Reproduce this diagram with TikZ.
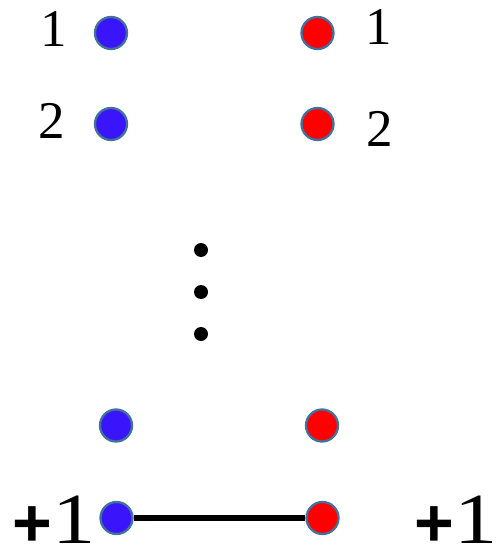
\documentclass[tikz,border=0pt]{standalone}
\usepackage{graphicx}
\usepackage{fontspec}
\setmainfont{Liberation Serif}
\setsansfont{Liberation Sans}
\newcommand{\plusone}{{\sffamily\bfseries\fontsize{68}{70}\selectfont\raisebox{-3pt}{+}}\scalebox{1.2}[1]{\rmfamily\mdseries\fontsize{72}{80}\selectfont 1}}
\begin{document}
\begin{tikzpicture}[x=1pt,y=-1pt,
  vtx/.style={circle,minimum size=32pt,inner sep=0pt,draw=edgeblue,line width=2.3pt},
  bluev/.style={vtx,fill=vblue},
  redv/.style={vtx,fill=red},
  dotv/.style={circle,fill=black,minimum size=14pt,inner sep=0pt},
  numlab/.style={inner sep=0pt,anchor=base,font=\fontsize{53}{60}\selectfont},
  pluslab/.style={inner sep=0pt,anchor=base west}]
\definecolor{vblue}{RGB}{58,20,250}
\definecolor{edgeblue}{RGB}{65,113,156}
\useasboundingbox (0,0) rectangle (496,548);
\node[bluev] (b1) at (111,33) {};
\node[redv] (r1) at (317.5,33) {};
\node[bluev] (b2) at (111,124) {};
\node[redv] (r2) at (317.5,124) {};
\node[bluev] (b3) at (116,425.5) {};
\node[redv] (r3) at (322,425.5) {};
\node[dotv] (d1) at (201,250) {};
\node[dotv] (d2) at (201,292) {};
\node[dotv] (d3) at (201,334) {};
\node[numlab] (lb1) at (53.5,47) {1};
\node[numlab] (lb2) at (52,139) {2};
\node[numlab] (lr1) at (379,45) {1};
\node[numlab] (lr2) at (380,147) {2};
\node[bluev] (b4) at (116.5,518) {};
\node[redv] (r4) at (322.5,518) {};
\draw[line width=6pt] (b4) -- (r4);
\node[pluslab] (pb) at (12.3,543) {\plusone};
\node[pluslab] (pr) at (414.3,543) {\plusone};
\end{tikzpicture}
\end{document}
